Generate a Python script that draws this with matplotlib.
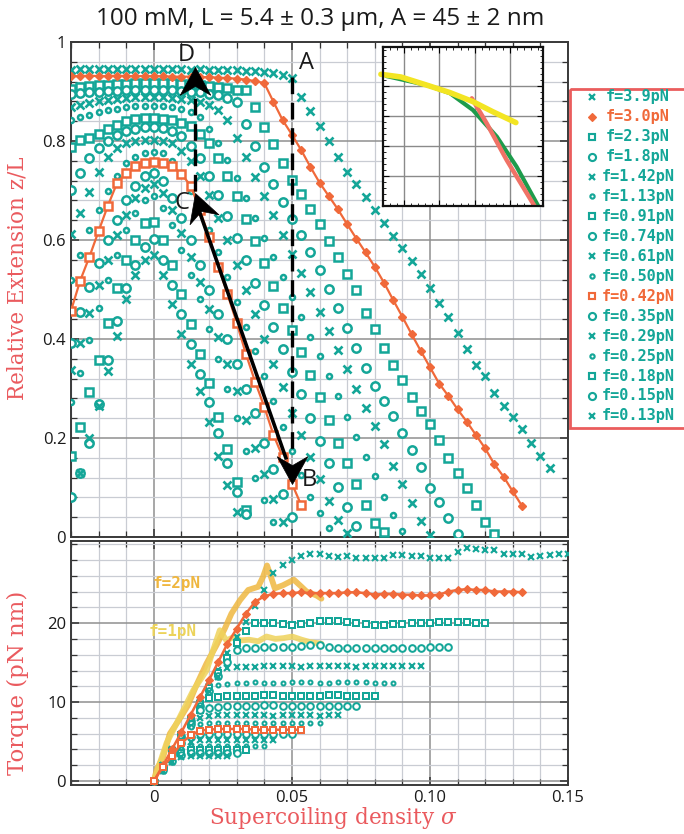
import numpy as np
import matplotlib
matplotlib.use("Agg")
import matplotlib.pyplot as plt
from matplotlib.markers import MarkerStyle
from matplotlib.patches import Rectangle
from matplotlib.path import Path
from matplotlib.ticker import FixedLocator, MultipleLocator
from matplotlib.transforms import Affine2D

# ---------------------------------------------------------------- data
LK0 = 1500.0          # linking number of relaxed DNA (turns)
TURN_STEP = 5         # magnet turns between two measurements

FORCE_LABELS = ["f=3.9pN", "f=3.0pN", "f=2.3pN", "f=1.8pN", "f=1.42pN",
                "f=1.13pN", "f=0.91pN", "f=0.74pN", "f=0.61pN", "f=0.50pN",
                "f=0.42pN", "f=0.35pN", "f=0.29pN", "f=0.25pN", "f=0.18pN",
                "f=0.15pN", "f=0.13pN"]

# first measured turn of each extension curve
EXT_START_TURNS = [-45, -45, -45, -45, -45, -45, -45, -45, -45, -45,
                   -45, -45, -45, -45, -45, -45, -40]

EXT_390 = [0.944, 0.945, 0.945, 0.946, 0.945, 0.945, 0.946, 0.945, 0.945, 0.946,
           0.945, 0.945, 0.945, 0.944, 0.945, 0.944, 0.944, 0.943, 0.943, 0.942,
           0.941, 0.940, 0.937, 0.933, 0.928, 0.888, 0.861, 0.830, 0.799, 0.767,
           0.737, 0.713, 0.686, 0.661, 0.634, 0.608, 0.584, 0.558, 0.531, 0.503,
           0.473, 0.444, 0.412, 0.380, 0.347, 0.325, 0.291, 0.265, 0.242, 0.218,
           0.190, 0.164, 0.139]
EXT_300 = [0.931, 0.931, 0.932, 0.931, 0.931, 0.932, 0.931, 0.931, 0.931, 0.931,
           0.931, 0.930, 0.930, 0.930, 0.929, 0.929, 0.928, 0.927, 0.926, 0.924,
           0.921, 0.917, 0.879, 0.842, 0.813, 0.782, 0.748, 0.716, 0.689, 0.662,
           0.632, 0.603, 0.575, 0.546, 0.514, 0.479, 0.445, 0.410, 0.376, 0.343,
           0.310, 0.285, 0.258, 0.233, 0.206, 0.179, 0.147, 0.122, 0.092, 0.063]
EXT_230 = [0.906, 0.909, 0.911, 0.913, 0.914, 0.915, 0.916, 0.917, 0.917, 0.917,
           0.917, 0.917, 0.916, 0.915, 0.914, 0.912, 0.910, 0.907, 0.904, 0.903,
           0.869, 0.828, 0.794, 0.756, 0.721, 0.693, 0.662, 0.632, 0.597, 0.565,
           0.531, 0.498, 0.453, 0.420, 0.382, 0.347, 0.317, 0.283, 0.255, 0.228,
           0.196, 0.160, 0.130, 0.098, 0.065, 0.031, 0.007]
EXT_180 = [0.894, 0.896, 0.898, 0.900, 0.901, 0.902, 0.903, 0.904, 0.904, 0.904,
           0.904, 0.903, 0.902, 0.900, 0.898, 0.895, 0.892, 0.887, 0.879, 0.835,
           0.789, 0.748, 0.713, 0.677, 0.642, 0.610, 0.576, 0.539, 0.502, 0.462,
           0.422, 0.381, 0.341, 0.306, 0.275, 0.244, 0.211, 0.176, 0.141, 0.100,
           0.070, 0.038, 0.007]
EXT_142 = [0.869, 0.873, 0.877, 0.880, 0.883, 0.885, 0.887, 0.888, 0.888, 0.888,
           0.888, 0.887, 0.885, 0.883, 0.879, 0.872, 0.862, 0.842, 0.806, 0.767,
           0.728, 0.689, 0.650, 0.611, 0.572, 0.533, 0.494, 0.455, 0.416, 0.378,
           0.339, 0.300, 0.261, 0.225, 0.188, 0.143, 0.107, 0.068, 0.033, 0.004]
EXT_113 = [0.842, 0.848, 0.853, 0.858, 0.862, 0.865, 0.868, 0.870, 0.871, 0.871,
           0.870, 0.868, 0.864, 0.858, 0.848, 0.825, 0.795, 0.762, 0.725, 0.685,
           0.645, 0.605, 0.565, 0.525, 0.485, 0.445, 0.405, 0.365, 0.325, 0.285,
           0.243, 0.202, 0.162, 0.123, 0.081, 0.044, 0.013]
EXT_091 = [0.787, 0.802, 0.807, 0.815, 0.825, 0.833, 0.840, 0.844, 0.846, 0.846,
           0.845, 0.842, 0.837, 0.830, 0.815, 0.795, 0.765, 0.730, 0.688, 0.643,
           0.598, 0.553, 0.508, 0.463, 0.418, 0.373, 0.328, 0.283, 0.236, 0.190,
           0.150, 0.108, 0.065, 0.028, 0.010]
EXT_074 = [0.702, 0.735, 0.765, 0.785, 0.800, 0.812, 0.820, 0.825, 0.828, 0.828,
           0.826, 0.820, 0.810, 0.790, 0.765, 0.730, 0.690, 0.649, 0.604, 0.559,
           0.514, 0.469, 0.424, 0.379, 0.334, 0.289, 0.240, 0.194, 0.149, 0.102,
           0.061, 0.022]
EXT_061 = [0.613, 0.654, 0.696, 0.738, 0.768, 0.785, 0.795, 0.800, 0.803, 0.803,
           0.800, 0.795, 0.780, 0.760, 0.730, 0.690, 0.645, 0.600, 0.550, 0.500,
           0.450, 0.400, 0.350, 0.304, 0.251, 0.206, 0.162, 0.117, 0.073, 0.034,
           0.009]
EXT_050 = [0.520, 0.570, 0.620, 0.660, 0.700, 0.730, 0.755, 0.768, 0.775, 0.778,
           0.775, 0.760, 0.735, 0.700, 0.665, 0.620, 0.575, 0.525, 0.475, 0.425,
           0.375, 0.325, 0.275, 0.223, 0.174, 0.125, 0.080, 0.048, 0.018]
EXT_042 = [0.457, 0.518, 0.566, 0.618, 0.669, 0.715, 0.736, 0.750, 0.755, 0.758,
           0.755, 0.750, 0.733, 0.710, 0.660, 0.607, 0.546, 0.491, 0.433, 0.370,
           0.314, 0.263, 0.206, 0.162, 0.108, 0.065]
EXT_035 = [0.391, 0.454, 0.505, 0.553, 0.600, 0.640, 0.680, 0.710, 0.730, 0.736,
           0.720, 0.685, 0.645, 0.600, 0.550, 0.500, 0.450, 0.400, 0.350, 0.298,
           0.250, 0.189, 0.137, 0.087, 0.040]
EXT_029 = [0.337, 0.391, 0.452, 0.510, 0.560, 0.610, 0.650, 0.685, 0.705, 0.713,
           0.695, 0.660, 0.615, 0.565, 0.515, 0.460, 0.405, 0.350, 0.294, 0.236,
           0.180, 0.127, 0.076, 0.031]
EXT_025 = [0.273, 0.332, 0.397, 0.462, 0.520, 0.570, 0.620, 0.655, 0.680, 0.689,
           0.665, 0.630, 0.580, 0.530, 0.480, 0.420, 0.360, 0.300, 0.240, 0.174,
           0.120, 0.075, 0.030]
EXT_018 = [0.164, 0.223, 0.292, 0.358, 0.432, 0.503, 0.560, 0.600, 0.635, 0.637,
           0.600, 0.550, 0.490, 0.430, 0.370, 0.312, 0.242, 0.177, 0.112, 0.055]
EXT_015 = [0.081, 0.130, 0.190, 0.268, 0.358, 0.437, 0.504, 0.550, 0.585, 0.602,
           0.560, 0.510, 0.450, 0.390, 0.330, 0.273, 0.211, 0.149, 0.090, 0.046]
EXT_013 = [0.130, 0.199, 0.265, 0.335, 0.406, 0.480, 0.530, 0.560, 0.570, 0.530,
           0.470, 0.410, 0.350, 0.294, 0.233, 0.164, 0.106, 0.050]

# torque curves (pN nm), all starting at zero turns
TQ_390 = [0.0, 2.0, 4.0, 6.0, 8.0, 10.0, 12.1, 14.1, 16.2, 18.2, 20.2, 22.2, 24.2,
          26.3, 27.4, 28.0, 28.5, 28.7, 28.7, 28.5, 28.4, 28.5, 28.3, 28.3, 28.3,
          28.2, 28.6, 28.6, 28.5, 28.5, 28.3, 28.2, 28.3, 29.0, 29.5, 29.4, 29.2,
          29.2, 28.7, 28.7, 28.7, 28.4, 28.5, 28.6, 28.7, 28.7]
TQ_300 = [0.0, 2.0, 4.1, 6.2, 8.4, 10.6, 12.8, 15.1, 17.4, 19.3, 21.2, 22.7, 23.4,
          23.7, 23.8, 23.8, 23.9, 23.8, 23.8, 23.8, 23.8, 23.9, 23.9, 23.8, 23.6,
          23.7, 23.7, 23.6, 23.6, 23.5, 23.5, 23.6, 24.0, 24.2, 24.3, 24.2, 24.2,
          24.0, 24.0, 24.0, 23.9]
TQ_230 = [0.0, 1.9, 3.8, 5.8, 7.8, 9.8, 11.8, 13.7, 15.6, 17.5, 19.0, 20.0, 20.0,
          20.0, 19.9, 19.8, 19.9, 20.0, 20.3, 20.3, 20.3, 20.2, 20.0, 19.9, 19.8,
          19.8, 19.9, 19.9, 20.0, 20.0, 20.0, 20.1, 20.1, 20.1, 20.1, 20.0, 20.0]
TQ_180 = [0.0, 1.9, 3.8, 5.7, 7.6, 9.5, 11.4, 13.3, 15.1, 16.6, 16.8, 16.9, 17.0,
          17.0, 17.0, 17.0, 17.1, 17.2, 17.2, 17.0, 16.9, 16.9, 16.8, 16.9, 16.9,
          16.8, 16.8, 16.9, 16.9, 16.9, 17.0, 17.0, 17.0]
TQ_142 = [0.0, 1.8, 3.7, 5.6, 7.5, 9.4, 11.3, 13.2, 14.3, 14.4, 14.5, 14.5, 14.6,
          14.6, 14.6, 14.6, 14.5, 14.6, 14.6, 14.6, 14.6, 14.6, 14.5, 14.6, 14.6,
          14.6, 14.6, 14.6, 14.6, 14.6]
TQ_113 = [0.0, 1.8, 3.6, 5.4, 7.3, 9.2, 11.0, 12.2, 12.3, 12.4, 12.4, 12.5, 12.4,
          12.4, 12.4, 12.5, 12.5, 12.5, 12.4, 12.4, 12.5, 12.5, 12.5, 12.5, 12.4,
          12.4, 12.4]
TQ_091 = [0.0, 1.8, 3.6, 5.4, 7.2, 9.0, 10.5, 10.7, 10.8, 10.8, 10.8, 10.8, 10.9,
          10.9, 10.8, 10.8, 10.8, 10.8, 10.8, 10.9, 10.9, 10.8, 10.8, 10.8, 10.8]
TQ_074 = [0.0, 1.8, 3.6, 5.4, 7.2, 9.0, 9.3, 9.4, 9.5, 9.5, 9.5, 9.5, 9.6, 9.6,
          9.5, 9.5, 9.5, 9.5, 9.5, 9.5, 9.5, 9.5, 9.5]
TQ_061 = [0.0, 1.7, 3.5, 5.2, 7.0, 8.0, 8.3, 8.4, 8.4, 8.4, 8.4, 8.4, 8.4, 8.3,
          8.4, 8.4, 8.4, 8.4, 8.3, 8.4, 8.4]
TQ_050 = [0.0, 1.7, 3.5, 5.2, 6.8, 7.2, 7.3, 7.4, 7.4, 7.4, 7.4, 7.4, 7.4, 7.3,
          7.4, 7.4, 7.4, 7.4, 7.4]
TQ_042 = [0.0, 1.8, 3.2, 4.8, 5.8, 6.4, 6.5, 6.6, 6.6, 6.6, 6.6, 6.5, 6.5, 6.5,
          6.5, 6.5, 6.5]
TQ_035 = [0.0, 1.7, 3.3, 4.8, 5.6, 5.9, 6.0, 6.0, 6.0, 6.0, 6.0, 6.0, 6.0, 6.0,
          6.0, 6.0]
TQ_029 = [0.0, 1.6, 3.2, 4.5, 5.0, 5.2, 5.2, 5.2, 5.2, 5.2, 5.2, 5.2, 5.2, 5.2]
TQ_025 = [0.0, 1.6, 3.0, 4.1, 4.4, 4.5, 4.5, 4.5, 4.5, 4.5, 4.5, 4.5, 4.5]
TQ_018 = [0.0, 1.5, 2.8, 3.6, 3.9, 3.9, 3.9, 3.9, 3.9, 3.9, 3.9]
TQ_015 = [0.0, 1.4, 2.6, 3.3, 3.5, 3.5, 3.5, 3.6, 3.6, 3.5]
TQ_013 = [0.0, 1.3, 2.4, 3.0, 3.2, 3.2, 3.2, 3.2, 3.2]

# direct torque measurements (thick yellow traces)
Y2_SIGMA = [0.0, 0.001, 0.0034, 0.0058, 0.0094, 0.0124, 0.0155, 0.0191, 0.0227,
            0.0257, 0.0281, 0.0312, 0.0342, 0.0378, 0.0396, 0.0410, 0.0420, 0.0438,
            0.0468, 0.0507, 0.0535, 0.0553, 0.0589, 0.0607]
Y2_TORQUE = [0.0, 1.4, 3.1, 6.0, 7.9, 9.6, 12.2, 14.9, 17.2, 19.3, 21.2, 22.9,
             24.2, 24.6, 25.9, 27.3, 26.3, 24.4, 24.8, 25.5, 24.6, 24.0, 23.5, 23.1]
Y1_SIGMA = [0.0, 0.0046, 0.0094, 0.0143, 0.0191, 0.0215, 0.0239, 0.0263, 0.0293,
            0.0312, 0.0345, 0.0378, 0.0408, 0.0440, 0.0470, 0.0501, 0.0535, 0.0565,
            0.0607]
Y1_TORQUE = [0.0, 4.8, 8.1, 11.5, 14.0, 16.6, 19.1, 17.8, 18.3, 17.8, 17.9, 17.7,
             18.3, 18.0, 18.1, 18.3, 17.9, 17.6, 17.4]

# inset traces (arbitrary units)
INSET_YELLOW_X = [-0.66, -0.09, 0.64, 1.30, 1.95, 2.52, 3.17]
INSET_YELLOW_Y = [4.39, 4.30, 4.03, 3.78, 3.48, 3.14, 2.78]
INSET_GREEN_X = [-0.5, 0.64, 1.30, 1.95, 2.63, 3.19, 3.80]
INSET_GREEN_Y = [4.33, 4.03, 3.76, 3.20, 2.31, 1.31, 0.01]
INSET_RED_X = [1.92, 2.34, 2.91, 3.71]
INSET_RED_Y = [3.59, 2.76, 1.53, -0.02]

EXTENSIONS = [EXT_390, EXT_300, EXT_230, EXT_180, EXT_142, EXT_113, EXT_091,
              EXT_074, EXT_061, EXT_050, EXT_042, EXT_035, EXT_029, EXT_025,
              EXT_018, EXT_015, EXT_013]
TORQUES = [TQ_390, TQ_300, TQ_230, TQ_180, TQ_142, TQ_113, TQ_091, TQ_074,
           TQ_061, TQ_050, TQ_042, TQ_035, TQ_029, TQ_025, TQ_018, TQ_015, TQ_013]

# ---------------------------------------------------------------- style
TEAL = "#14a698"
ORANGE = "#f0693a"
RED = "#ea5a5e"
GRID_LIGHT = "#c9ccd3"
GRID_DARK = "#909090"
ORANGE_SERIES = {1: "diamond", 10: "square"}
CYCLE = ["x", "dot", "square", "circle"]

plt.rcParams["mathtext.fontset"] = "dejavuserif"

W, H = 684, 834


def marker_kw(i, scale=1.0):
    kind = ORANGE_SERIES.get(i, CYCLE[i % 4])
    color = ORANGE if i in ORANGE_SERIES else TEAL
    base = {
        "x": dict(marker="x", ms=5.4, mew=1.9),
        "dot": dict(marker="o", ms=3.6, mew=1.8, mfc="white"),
        "square": dict(marker="s", ms=5.8, mew=1.8, mfc="white"),
        "circle": dict(marker="o", ms=6.0, mew=1.8, mfc="white"),
        "diamond": dict(marker="D", ms=4.5, mew=1.0, mfc=ORANGE),
    }[kind]
    kw = dict(base)
    kw["ms"] = base["ms"] * scale
    kw["mew"] = base["mew"] * max(scale, 0.8)
    kw["mec"] = color
    kw["color"] = color
    return kw


def sigma_axis(start_turn, n):
    return (start_turn + TURN_STEP * np.arange(n)) / LK0


def style_axes(ax, ymajor, yminor, ylabels):
    ax.set_xlim(-0.03, 0.15)
    ax.xaxis.set_major_locator(FixedLocator([0.0, 0.05, 0.10, 0.15]))
    ax.xaxis.set_minor_locator(MultipleLocator(0.01))
    ax.yaxis.set_major_locator(FixedLocator(ymajor))
    ax.yaxis.set_minor_locator(MultipleLocator(yminor))
    ax.set_yticklabels(ylabels)
    ax.grid(which="minor", color=GRID_LIGHT, lw=0.9)
    ax.grid(which="major", color=GRID_DARK, lw=1.1)
    ax.set_axisbelow(True)
    ax.tick_params(which="both", direction="in", top=True, right=True,
                   labelsize=12, labelcolor="#1a1a1a", color="#333333")
    ax.tick_params(which="major", length=6, width=1.1)
    ax.tick_params(which="minor", length=4, width=0.9)
    for lbl in ax.get_yticklabels() + ax.get_xticklabels():
        lbl.set_fontfamily("Open Sans")
    for sp in ax.spines.values():
        sp.set_linewidth(1.4)
        sp.set_color("#3a3a3a")


STEALTH = Path([(0, 0), (-1, 0.55), (-0.68, 0), (-1, -0.55), (0, 0)],
               [Path.MOVETO, Path.LINETO, Path.LINETO, Path.LINETO, Path.CLOSEPOLY])


def arrow_head(ax, tip, frm, size=40):
    p_tip = ax.transData.transform(tip)
    p_frm = ax.transData.transform(frm)
    ang = np.degrees(np.arctan2(p_tip[1] - p_frm[1], p_tip[0] - p_frm[0]))
    m = MarkerStyle(STEALTH, transform=Affine2D().rotate_deg(ang))
    ax.plot([tip[0]], [tip[1]], marker=m, ms=size, color="k", mec="k", mew=0.5,
            ls="none", zorder=9, clip_on=False)


fig = plt.figure(figsize=(W / 100, H / 100), dpi=100)

ax1 = fig.add_axes([71 / W, 1 - 537 / H, 497 / W, 495 / H])
ax2 = fig.add_axes([71 / W, 1 - 785 / H, 497 / W, 244 / H])
ax1.set_ylim(0, 1)
ax2.set_ylim(-0.5, 30.4)
style_axes(ax1, [0, 0.2, 0.4, 0.6, 0.8, 1.0], 0.04,
           ["0", "0.2", "0.4", "0.6", "0.8", "1"])
ax1.set_xticklabels([])
style_axes(ax2, [0, 10, 20], 2, ["0", "10", "20"])
ax2.set_xticklabels(["0", "0.05", "0.10", "0.15"])
for lbl in ax2.get_xticklabels():
    lbl.set_fontfamily("Open Sans")

# ---- extension curves
for i, ext in enumerate(EXTENSIONS):
    sig = sigma_axis(EXT_START_TURNS[i], len(ext))
    kw = marker_kw(i)
    if i in ORANGE_SERIES:
        ax1.plot(sig, ext, ls="-", lw=1.6, zorder=5, **kw)
    else:
        ax1.plot(sig, ext, ls="none", zorder=3, **kw)

# ---- torque curves
ax2.plot(Y2_SIGMA, Y2_TORQUE, color="#efb840", lw=4.2, alpha=0.85, zorder=2,
         solid_joinstyle="round", solid_capstyle="round")
ax2.plot(Y1_SIGMA, Y1_TORQUE, color="#efd35c", lw=4.2, alpha=0.85, zorder=2,
         solid_joinstyle="round", solid_capstyle="round")
for i, tq in enumerate(TORQUES):
    sig = sigma_axis(0, len(tq))
    kw = marker_kw(i, scale=0.8)
    if i in ORANGE_SERIES:
        ax2.plot(sig, tq, ls="-", lw=1.8, zorder=5, **kw)
    else:
        ax2.plot(sig, tq, ls="none", zorder=3, **kw)
ax2.text(0.0082, 25.0, "f=2pN", color="#efb63f", fontsize=11.5, fontweight="bold",
         family="DejaVu Sans Mono", ha="center", va="center")
ax2.text(0.0070, 18.9, "f=1pN", color="#ecd35a", fontsize=11.5, fontweight="bold",
         family="DejaVu Sans Mono", ha="center", va="center")

# ---- A-B-C-D cycle
dash = (0, (5, 2.6))
ax1.plot([0.0500, 0.0500], [0.930, 0.165], color="k", lw=2.4, ls=dash, zorder=8)
ax1.plot([0.0148, 0.0148], [0.700, 0.900], color="k", lw=2.4, ls=dash, zorder=8)
ax1.plot([0.0478, 0.0156], [0.160, 0.672], color="k", lw=2.6, zorder=8)
arrow_head(ax1, (0.0500, 0.108), (0.0500, 0.5))
arrow_head(ax1, (0.0148, 0.950), (0.0148, 0.5))
arrow_head(ax1, (0.0150, 0.694), (0.0497, 0.130))
for letter, x, y in [("A", 0.0553, 0.957), ("B", 0.0563, 0.115),
                     ("C", 0.0103, 0.674), ("D", 0.0118, 0.974)]:
    ax1.text(x, y, letter, fontsize=17, family="Open Sans", color="#1a1a1a",
             ha="center", va="center", zorder=10)

# ---- inset
axi = fig.add_axes([383 / W, 1 - 206 / H, 160 / W, 159 / H], zorder=5)
axi.set_xlim(-0.6, 3.94)
axi.set_ylim(0, 5.3)
axi.xaxis.set_major_locator(FixedLocator([0, 1, 2, 3]))
axi.yaxis.set_major_locator(FixedLocator([1, 2, 3, 4]))
axi.xaxis.set_minor_locator(MultipleLocator(0.2))
axi.yaxis.set_minor_locator(MultipleLocator(0.2))
axi.grid(which="major", color="#8a8a8a", lw=1.0)
axi.tick_params(which="both", direction="in", top=True, right=True,
                labelbottom=False, labelleft=False)
axi.tick_params(which="major", length=4)
axi.tick_params(which="minor", length=2)
for sp in axi.spines.values():
    sp.set_linewidth(1.6)
    sp.set_color("#111111")
axi.plot(INSET_GREEN_X, INSET_GREEN_Y, color="#1e9c4c", lw=3.0,
         solid_capstyle="round")
axi.plot(INSET_RED_X, INSET_RED_Y, color="#f07266", lw=3.2,
         solid_capstyle="round")
axi.plot(INSET_YELLOW_X, INSET_YELLOW_Y, color="#f3e523", lw=4.0,
         solid_capstyle="round", clip_on=False)

# ---- legend box
axl = fig.add_axes([570 / W, 1 - 428 / H, 130 / W, 339 / H], zorder=6)
axl.set_xlim(0, 130)
axl.set_ylim(339, 0)
axl.axis("off")
axl.add_patch(Rectangle((0, 0), 130, 339, fill=False, ec="#ea5d5d", lw=2.0,
                        clip_on=False))
for i, label in enumerate(FORCE_LABELS):
    y = 7.7 + 19.95 * i
    kw = marker_kw(i, scale=0.85)
    axl.plot([21.5], [y], ls="none", clip_on=False, **kw)
    axl.text(68, y, label, color=kw["color"], fontsize=11, fontweight="bold",
             family="DejaVu Sans Mono", ha="center", va="center")

# ---- texts
fig.text(320 / W, 1 - 19 / H, "100 mM, L = 5.4 \u00b1 0.3 \u03bcm, A = 45 \u00b1 2 nm",
         ha="center", va="center", fontsize=17.5, family="Open Sans", color="#1a1a1a")
fig.text(18 / W, 1 - 278 / H, "Relative Extension z/L", rotation=90, color=RED,
         fontsize=15.5, family="DejaVu Serif", ha="center", va="center")
fig.text(18 / W, 1 - 683 / H, "Torque (pN nm)", rotation=90, color=RED,
         fontsize=16.5, family="DejaVu Serif", ha="center", va="center")
fig.text(333 / W, 1 - 818 / H, "Supercoiling density $\\sigma$", color=RED,
         fontsize=15.5, family="DejaVu Serif", ha="center", va="center")

fig.savefig("out.png", dpi=100)
